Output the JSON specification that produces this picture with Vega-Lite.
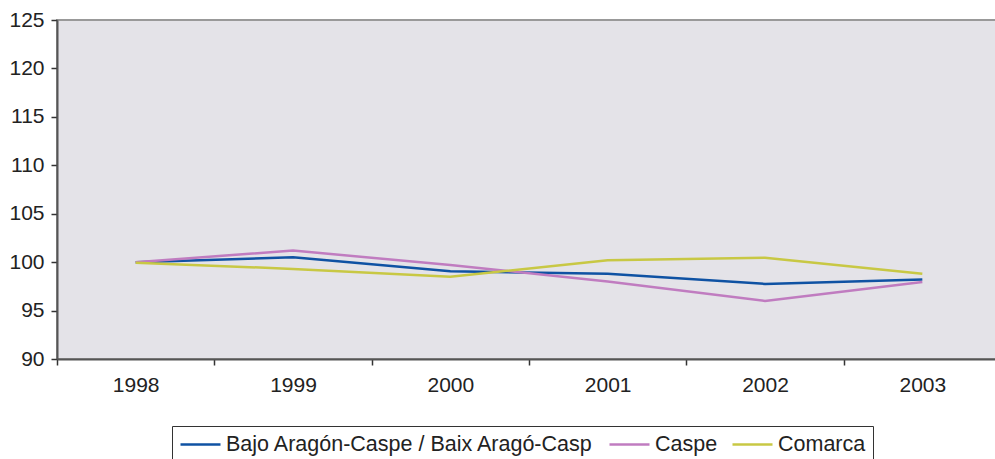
{
  "$schema": "https://vega.github.io/schema/vega-lite/v6.json",
  "width": 944,
  "height": 339,
  "autosize": {"type": "none"},
  "padding": {"left": 57, "top": 20, "right": 0, "bottom": 100},
  "background": "white",
  "config": {
    "font": "Liberation Sans",
    "view": {"fill": "#E4E3E8", "stroke": "#999999", "strokeWidth": 2}
  },
  "data": {
    "values": [
      {"year": "1998", "serie": "Bajo Aragón-Caspe / Baix Aragó-Casp", "value": 100.0},
      {"year": "1999", "serie": "Bajo Aragón-Caspe / Baix Aragó-Casp", "value": 100.5},
      {"year": "2000", "serie": "Bajo Aragón-Caspe / Baix Aragó-Casp", "value": 99.05},
      {"year": "2001", "serie": "Bajo Aragón-Caspe / Baix Aragó-Casp", "value": 98.8},
      {"year": "2002", "serie": "Bajo Aragón-Caspe / Baix Aragó-Casp", "value": 97.75},
      {"year": "2003", "serie": "Bajo Aragón-Caspe / Baix Aragó-Casp", "value": 98.2},
      {"year": "1998", "serie": "Caspe", "value": 100.0},
      {"year": "1999", "serie": "Caspe", "value": 101.2},
      {"year": "2000", "serie": "Caspe", "value": 99.7},
      {"year": "2001", "serie": "Caspe", "value": 98.0},
      {"year": "2002", "serie": "Caspe", "value": 96.0},
      {"year": "2003", "serie": "Caspe", "value": 97.95},
      {"year": "1998", "serie": "Comarca", "value": 99.95},
      {"year": "1999", "serie": "Comarca", "value": 99.3},
      {"year": "2000", "serie": "Comarca", "value": 98.5},
      {"year": "2001", "serie": "Comarca", "value": 100.2},
      {"year": "2002", "serie": "Comarca", "value": 100.45},
      {"year": "2003", "serie": "Comarca", "value": 98.8}
    ]
  },
  "mark": {"type": "line", "strokeWidth": 2.5},
  "encoding": {
    "x": {
      "field": "year", "type": "ordinal", "title": null,
      "scale": {"type": "band", "paddingInner": 0, "paddingOuter": 0},
      "axis": {
        "labelAngle": 0, "labelFontSize": 21, "labelColor": "#222", "labelPadding": 9,
        "tickBand": "extent", "tickSize": 6, "tickColor": "#333", "tickWidth": 1.5,
        "domainColor": "#555", "domainWidth": 2, "grid": false
      }
    },
    "y": {
      "field": "value", "type": "quantitative", "title": null,
      "scale": {"domain": [90, 125], "nice": false, "zero": false},
      "axis": {
        "values": [90, 95, 100, 105, 110, 115, 120, 125],
        "labelFontSize": 21, "labelColor": "#222", "labelPadding": 7,
        "tickSize": 6, "tickColor": "#333", "tickWidth": 1.5,
        "domainColor": "#555", "domainWidth": 2, "grid": false
      }
    },
    "color": {
      "field": "serie", "type": "nominal", "title": null,
      "scale": {
        "domain": ["Bajo Aragón-Caspe / Baix Aragó-Casp", "Caspe", "Comarca"],
        "range": ["#0F52A3", "#C07CC0", "#C8C844"]
      },
      "legend": {
        "orient": "none", "legendX": 115, "legendY": 406,
        "direction": "horizontal",
        "symbolType": "M-1,0H3", "symbolSize": 400, "symbolStrokeWidth": 2.5,
        "labelFontSize": 21.5, "labelColor": "#222", "labelOffset": 24, "labelLimit": 600,
        "columnPadding": 9, "padding": 7,
        "strokeColor": "#333", "fillColor": "white"
      }
    }
  }
}
